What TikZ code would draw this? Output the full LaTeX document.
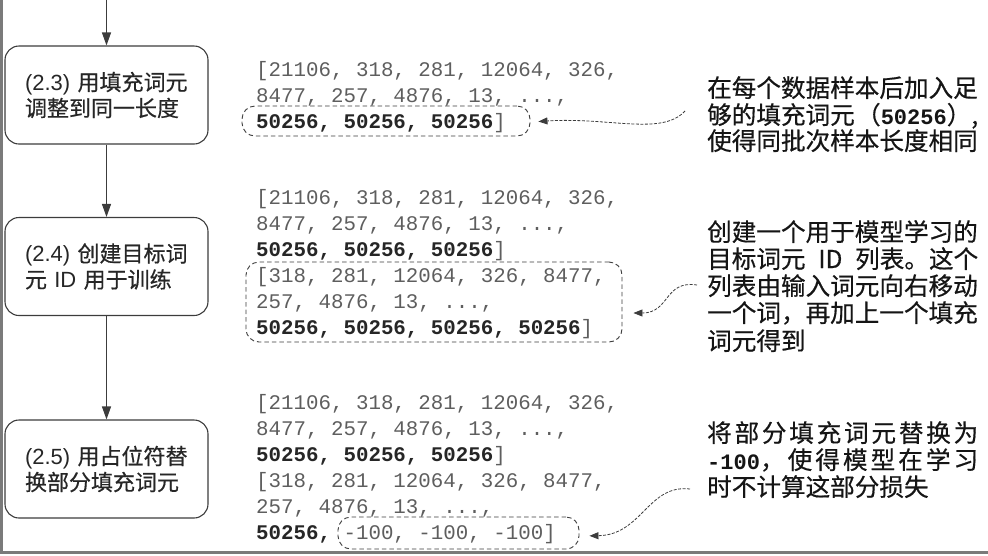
\documentclass[tikz,border=0pt]{standalone}
\usepackage{fontspec}
\setmainfont{Liberation Sans}
\newfontfamily\cjk[FakeBold=0.5]{Noto Sans CJK SC}
\newfontfamily\codefont{Liberation Mono}
\usetikzlibrary{arrows.meta}
\definecolor{codegray}{HTML}{5E5E5E}
\definecolor{codedark}{HTML}{262626}
\definecolor{linegray}{HTML}{3C3C3C}
\definecolor{framegray}{HTML}{7A7A7A}
\definecolor{notecol}{HTML}{151515}
\newcommand{\cb}[1]{{\bfseries\color{codedark}#1}}
\newcommand{\nb}[1]{{\codefont\bfseries\fontsize{22}{27}\selectfont #1}}
\tikzset{
  stepbox/.style={draw=linegray, line width=1.1pt, rounded corners=14pt,
    minimum width=203pt, minimum height=98pt, text width=163pt, align=left,
    inner sep=0pt, text=black!85, font=\fontsize{22}{26}\selectfont},
  flowarrow/.style={draw=linegray, line width=1.1pt, -{Triangle[length=13pt,width=9pt]}},
  codeline/.style={anchor=base west, inner sep=0pt, text=codegray,
    font=\codefont\fontsize{20.8}{26}\selectfont},
  padbox/.style={draw=linegray, line width=0.9pt, dash pattern=on 4.5pt off 3pt,
    rounded corners=13pt, inner sep=0pt},
  note/.style={anchor=base west, inner sep=0pt, text=notecol,
    font=\cjk\fontsize{24.6}{27}\selectfont},
  notearrow/.style={draw=linegray, line width=0.8pt, dash pattern=on 3pt off 1.5pt,
    -{Triangle[length=9pt,width=7pt]}},
  frameline/.style={draw=framegray, line width=2.6pt}
}
\begin{document}
\begin{tikzpicture}[x=1pt,y=-1pt]
\useasboundingbox (0,0) rectangle (988,555);
% frame
\coordinate (ftop) at (1.5,0);
\coordinate (fcorner) at (1.5,552.5);
\coordinate (fright) at (988,552.5);
\draw[frameline] (ftop) -- (fcorner) -- (fright);

% step boxes
\node[stepbox] (b1) at (106.5,95) {(2.3) {\cjk 用填充词元}\\{\cjk 调整到同一长度}};
\node[stepbox] (b2) at (106.5,266.5) {(2.4) {\cjk 创建目标词}\\{\cjk 元} ID {\cjk 用于训练}};
\node[stepbox] (b3) at (106.5,469) {(2.5) {\cjk 用占位符替}\\{\cjk 换部分填充词元}};
\coordinate (top) at (106.5,0);
\draw[flowarrow] (top) -- (b1.north);
\draw[flowarrow] (b1.south) -- (b2.north);
\draw[flowarrow] (b2.south) -- (b3.north);

% block 1
\node[codeline] (c1a) at (256,76) {[21106, 318, 281, 12064, 326,};
\node[codeline] (c1b) at (256,102) {8477, 257, 4876, 13, ...,};
\node[codeline] (c1c) at (256,128) {\cb{50256, 50256, 50256}]};
\node[padbox, minimum width=288pt, minimum height=30pt] (pad1) at (386,121) {};

% block 2
\node[codeline] (c2a) at (256,204) {[21106, 318, 281, 12064, 326,};
\node[codeline] (c2b) at (256,230) {8477, 257, 4876, 13, ...,};
\node[codeline] (c2c) at (256,256) {\cb{50256, 50256, 50256}]};
\node[codeline] (c2d) at (256,282) {[318, 281, 12064, 326, 8477,};
\node[codeline] (c2e) at (256,308) {257, 4876, 13, ...,};
\node[codeline] (c2f) at (256,334) {\cb{50256, 50256, 50256, 50256}]};
\node[padbox, minimum width=376pt, minimum height=80pt] (pad2) at (434,302) {};

% block 3
\node[codeline] (c3a) at (256,409) {[21106, 318, 281, 12064, 326,};
\node[codeline] (c3b) at (256,435) {8477, 257, 4876, 13, ...,};
\node[codeline] (c3c) at (256,461) {\cb{50256, 50256, 50256}]};
\node[codeline] (c3d) at (256,487) {[318, 281, 12064, 326, 8477,};
\node[codeline] (c3e) at (256,513) {257, 4876, 13, ...,};
\node[codeline] (c3f) at (256,539) {\cb{50256,} -100, -100, -100]};
\node[padbox, minimum width=241pt, minimum height=32pt] (pad3) at (458.5,533) {};

% notes
\node[note] (t1a) at (707,97) {\makebox[271pt][l]{在每个数据样本后加入足}};
\node[note] (t1b) at (707,124) {\makebox[271pt]{够的填充词元\hfill（\nb{50256}）,}};
\node[note] (t1c) at (707,150) {\makebox[271pt][l]{使得同批次样本长度相同}};

\node[note] (t2a) at (707,241) {\makebox[271pt][l]{创建一个用于模型学习的}};
\node[note] (t2b) at (707,268) {\makebox[271pt]{目标词元\hfill ID\hfill 列表。这个}};
\node[note] (t2c) at (707,295) {\makebox[271pt][l]{列表由输入词元向右移动}};
\node[note] (t2d) at (707,322) {\makebox[271pt][l]{一个词，再加上一个填充}};
\node[note] (t2e) at (707,350) {\makebox[271pt][l]{词元得到}};

\node[note] (t3a) at (707,442) {\makebox[271pt]{将\hfill 部\hfill 分\hfill 填\hfill 充\hfill 词\hfill 元\hfill 替\hfill 换\hfill 为}};
\node[note] (t3b) at (707,469) {\makebox[271pt]{\nb{-100}，\hfill 使\hfill 得\hfill 模\hfill 型\hfill 在\hfill 学\hfill 习}};
\node[note] (t3c) at (707,496) {\makebox[271pt][l]{时不计算这部分损失}};

% annotation arrows
\coordinate (s1) at (685,111);
\coordinate (s2) at (697,285);
\coordinate (s3) at (690,489);
\draw[notearrow, shorten >=8pt] (s1) .. controls (662,136) and (610,117) .. ([yshift=-1pt]pad1.east);
\draw[notearrow, shorten >=11pt] (s2) .. controls (664,280) and (670,313) .. ([yshift=-11pt]pad2.east);
\draw[notearrow, shorten >=10pt] (s3) .. controls (648,484) and (642,535) .. ([yshift=-3pt]pad3.east);
\end{tikzpicture}
\end{document}
